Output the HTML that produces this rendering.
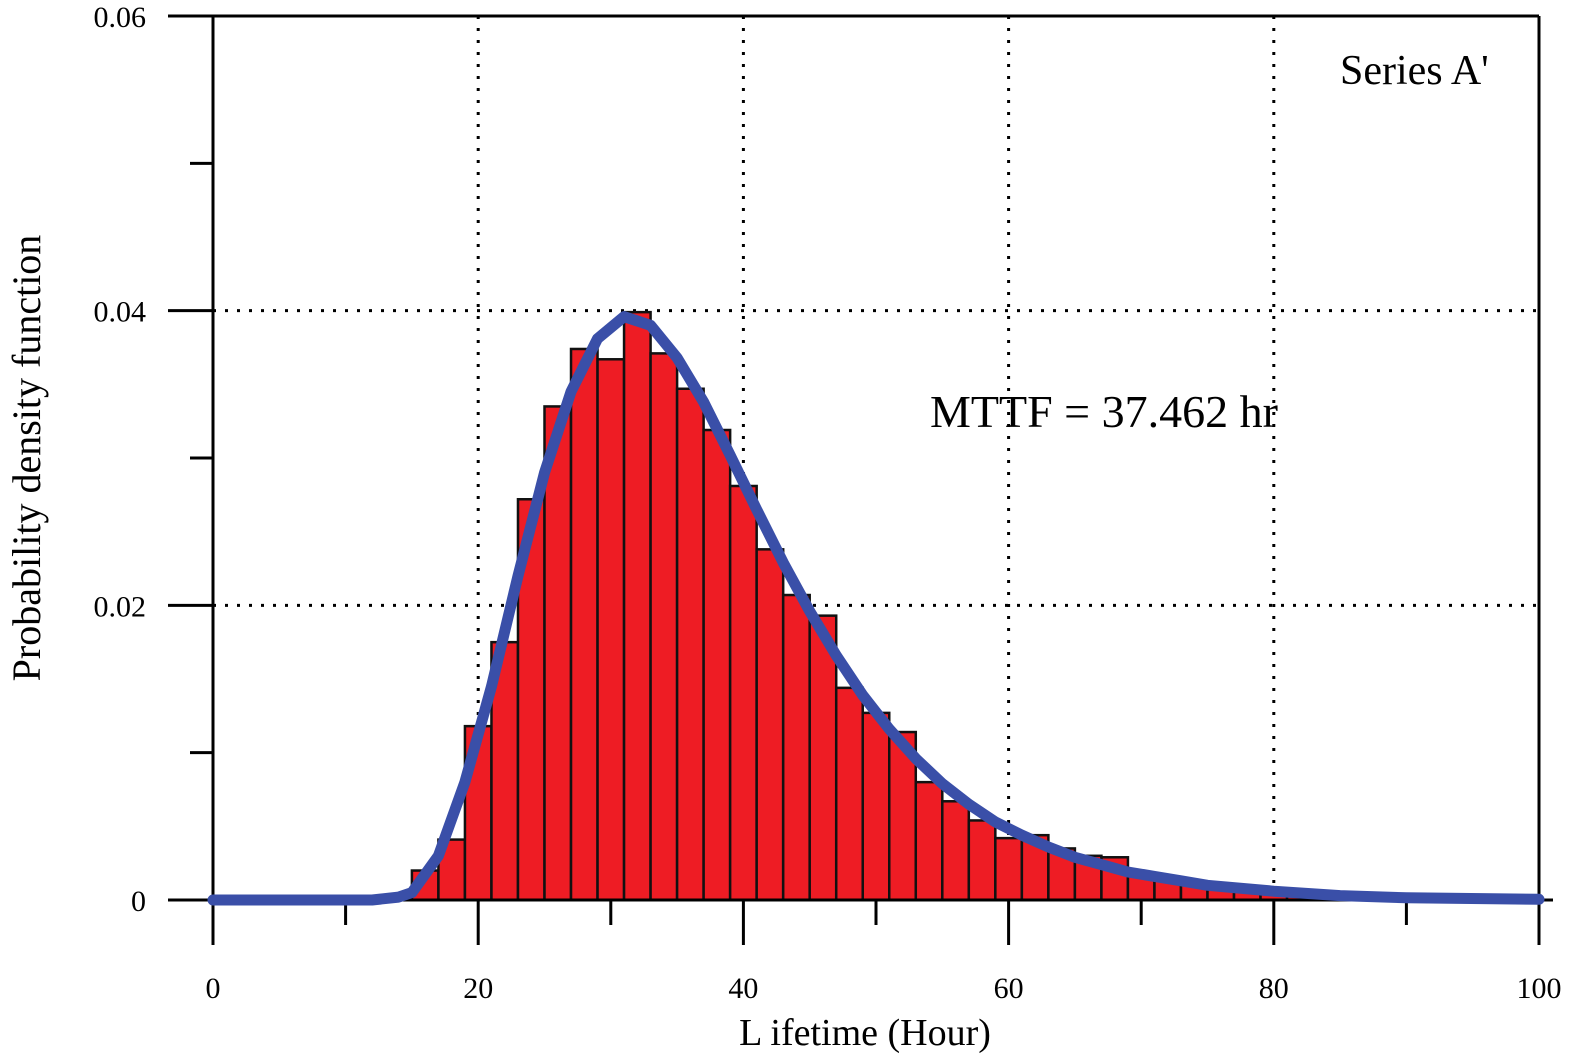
<!DOCTYPE html>
<html><head><meta charset="utf-8"><style>
html,body{margin:0;padding:0;background:#fff}
svg{display:block;font-family:"Liberation Serif",serif}
</style></head><body>
<svg id="chart" width="1577" height="1063" viewBox="0 0 1577 1063" xmlns="http://www.w3.org/2000/svg">
<g id="grid"></g>
<g id="bars"></g>
<g id="axes"></g>
<g id="curve"></g>
<text x="1340" y="84" font-size="42">Series A'</text>
<text x="930" y="427" font-size="46">MTTF = 37.462 hr</text>
<text x="865" y="1045" font-size="38" text-anchor="middle">L ifetime (Hour)</text>
<text transform="translate(40,458) rotate(-90)" font-size="40" text-anchor="middle">Probability density function</text>
</svg>
<script>
const binStarts=[15,17,19,21,23,25,27,29,31,33,35,37,39,41,43,45,47,49,51,53,55,57,59,61,63,65,67,69,71,73,75,77,79,81,83,85,87];
const binValues=[0.002,0.0041,0.0118,0.0175,0.0272,0.0335,0.0374,0.0367,0.0399,0.0371,0.0347,0.0319,0.0281,0.0238,0.0207,0.0193,0.0144,0.0127,0.0114,0.0080,0.0067,0.0054,0.0042,0.0044,0.0035,0.0030,0.0029,0.0018,0.0014,0.0010,0.0009,0.0007,0.0006,0.0005,0.0003,0.0002,0.0001];
const binWidth=2;
const curveX=[0,10,12,14,15,17,19,21,23,25,27,29,31,33,35,37,39,41,43,45,47,49,51,53,55,57,59,61,63,65,67,69,71,73,75,80,85,90,100];
const curveY=[0,0,0,0.0002,0.0005,0.003,0.008,0.0145,0.022,0.029,0.0345,0.0381,0.0396,0.039,0.0368,0.0338,0.0302,0.0265,0.0229,0.0196,0.0166,0.0139,0.0116,0.0096,0.0079,0.0065,0.0053,0.0044,0.0036,0.0029,0.0024,0.0019,0.0016,0.0013,0.001,0.0006,0.0003,0.00015,0.00005];
const xTicks=[0,20,40,60,80,100];
const xTickLabels=["0","20","40","60","80","100"];
const yTicks=[0,0.02,0.04,0.06];
const yTickLabels=["0","0.02","0.04","0.06"];
const X0=213,X1=1539,Y0=900,Y1=16;
const sx=v=>X0+(v-0)/(100-0)*(X1-X0);
const sy=v=>Y0-(v/0.06)*(Y0-Y1);
const NS="http://www.w3.org/2000/svg";
function mk(tag,attrs,parent){const e=document.createElementNS(NS,tag);for(const k in attrs)e.setAttribute(k,attrs[k]);document.getElementById(parent).appendChild(e);return e;}
// grid
[20,40,60,80].forEach(v=>{const l=mk('line',{x1:sx(v),x2:sx(v),y1:Y1,y2:Y0,stroke:'#000','stroke-width':3,'stroke-dasharray':'3 9'},'grid');

});
[0.02,0.04].forEach(v=>{const l=mk('line',{x1:X0,x2:X1,y1:sy(v),y2:sy(v),stroke:'#000','stroke-width':3,'stroke-dasharray':'3 9'},'grid');

});
// bars
binStarts.forEach((b,i)=>{const r=mk('rect',{x:sx(b),y:sy(binValues[i]),width:sx(b+binWidth)-sx(b),height:Y0-sy(binValues[i]),fill:'#ee1c24',stroke:'#111','stroke-width':2.5},'bars');

});
// axes
const ax=[[X0,Y1,X0,Y0+45],[168,Y1,X1,Y1],[X1,Y1,X1,Y0],[168,Y0,X1+14,Y0]];
ax.forEach(a=>{const l=mk('line',{x1:a[0],y1:a[1],x2:a[2],y2:a[3],stroke:'#000','stroke-width':3},'axes');

});
yTicks.forEach((v,i)=>{const l=mk('line',{x1:168,x2:X0,y1:sy(v),y2:sy(v),stroke:'#000','stroke-width':3},'axes');


const t=mk('text',{x:146,y:sy(v)+11,'font-size':30,'text-anchor':'end'},'axes');t.textContent=yTickLabels[i];

});
[0.01,0.03,0.05].forEach(v=>{const l=mk('line',{x1:190,x2:X0,y1:sy(v),y2:sy(v),stroke:'#000','stroke-width':3},'axes');

});
xTicks.forEach((v,i)=>{const l=mk('line',{x1:sx(v),x2:sx(v),y1:Y0,y2:Y0+45,stroke:'#000','stroke-width':3},'axes');


const t=mk('text',{x:sx(v),y:998,'font-size':30,'text-anchor':'middle'},'axes');t.textContent=xTickLabels[i];

});
[10,30,50,70,90].forEach(v=>{const l=mk('line',{x1:sx(v),x2:sx(v),y1:Y0,y2:Y0+25,stroke:'#000','stroke-width':3},'axes');

});
// curve
let d='';curveX.forEach((x,i)=>{d+=(i?'L':'M')+sx(x).toFixed(1)+' '+sy(curveY[i]).toFixed(1)+' ';});
const p=mk('path',{d:d,fill:'none',stroke:'#3a4fa8','stroke-width':11,'stroke-linejoin':'round','stroke-linecap':'round'},'curve');


</script>
</body></html>
